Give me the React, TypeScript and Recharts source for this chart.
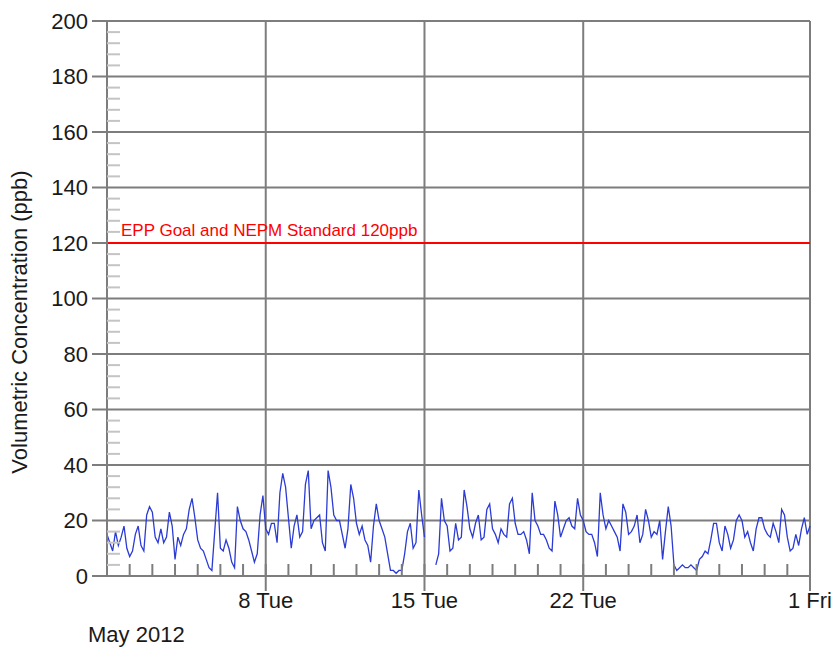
import {
  LineChart,
  Line,
  XAxis,
  YAxis,
  CartesianGrid,
  ReferenceLine,
} from "recharts";

const FONT = '"Liberation Sans", Arial, sans-serif';
const HOURS_PER_SAMPLE = 3;
const MONTH_HOURS = 744;

// ozone in ppb, one reading every 3 hours from 1 May 00:00 (null = no data)
const ozone: (number | null)[] = [
  15, 12, 9, 16, 11, 14, 18, 10, // 1
  7, 9, 15, 18, 11, 9, 22, 25, // 2
  23, 14, 12, 17, 12, 14, 23, 18, // 3
  6, 14, 11, 15, 17, 24, 28, 21, // 4
  13, 10, 9, 6, 3, 2, 16, 30, // 5
  10, 9, 13, 10, 5, 3, 25, 20, // 6
  17, 16, 13, 9, 5, 8, 22, 29, // 7
  17, 15, 19, 19, 12, 30, 37, 32, // 8
  21, 10, 18, 22, 14, 16, 33, 38, // 9
  17, 20, 21, 22, 12, 9, 38, 32, // 10
  22, 20, 20, 15, 10, 17, 33, 28, // 11
  19, 15, 18, 13, 11, 5, 18, 26, // 12
  20, 17, 14, 8, 2, 2, 1, 2, // 13
  2, 8, 16, 19, 10, 12, 31, 22, // 14
  14, null, null, null, 4, 8, 28, 20, // 15
  18, 9, 10, 19, 13, 14, 31, 25, // 16
  17, 14, 19, 22, 13, 14, 24, 26, // 17
  17, 15, 12, 17, 15, 14, 26, 28, // 18
  19, 15, 15, 16, 13, 8, 30, 20, // 19
  18, 15, 15, 13, 10, 9, 27, 22, // 20
  14, 17, 20, 21, 18, 17, 28, 22, // 21
  20, 16, 15, 15, 12, 7, 30, 22, // 22
  17, 20, 18, 16, 14, 9, 26, 23, // 23
  15, 16, 18, 22, 12, 15, 24, 20, // 24
  14, 16, 15, 20, 6, 16, 25, 18, // 25
  4, 2, 3, 4, 3, 3, 4, 3, // 26
  2, 6, 7, 9, 8, 13, 19, 19, // 27
  12, 9, 18, 15, 10, 13, 20, 22, // 28
  20, 14, 16, 12, 9, 17, 21, 21, // 29
  17, 15, 14, 19, 16, 12, 24, 22, // 30
  14, 9, 10, 15, 11, 17, 21, 15, // 31
  18,
];

const xTickHours = [168, 336, 504, 744];
const xTickLabels = ["8 Tue", "15 Tue", "22 Tue", "1 Fri"];
const dayTickHours = [
  24, 48, 72, 96, 120, 144, 168, 192, 216, 240, 264, 288, 312, 336, 360,
  384, 408, 432, 456, 480, 504, 528, 552, 576, 600, 624, 648, 672, 696, 720,
];
const yTicks = [0, 20, 40, 60, 80, 100, 120, 140, 160, 180, 200];
const yMinorTicks = [
  4, 8, 12, 16, 24, 28, 32, 36, 44, 48, 52, 56, 64, 68, 72, 76, 84, 88, 92,
  96, 104, 108, 112, 116, 124, 128, 132, 136, 144, 148, 152, 156, 164, 168,
  172, 176, 184, 188, 192, 196,
];
const standardValue = 120;
const standardLabel = "EPP Goal and NEPM Standard 120ppb";

const data = ozone.map((v, i) => ({ hour: i * HOURS_PER_SAMPLE, ozone: v }));

const GRID = "#7d7d7d";
const noLabel = () => "";

export default function App() {
  return (
    <div style={{ width: 839, height: 651, background: "#fff" }}>
      <style>{"body{margin:0}"}</style>
      <LineChart
        width={839}
        height={651}
        data={data}
        margin={{ top: 21, right: 29, bottom: 35, left: 0 }}
        style={{ fontFamily: FONT }}
      >
        <CartesianGrid stroke={GRID} strokeWidth={2} />
        <XAxis
          dataKey="hour"
          type="number"
          domain={[0, MONTH_HOURS]}
          ticks={xTickHours}
          interval={0}
          height={40}
          tickSize={15}
          tickMargin={1}
          stroke={GRID}
          strokeWidth={2}
          tick={{ fontSize: 22, fill: "#1a1a1a", fontFamily: FONT }}
          tickFormatter={(h: number) => xTickLabels[xTickHours.indexOf(h)]}
          label={{
            content: () => (
              <text x={88} y={642} fontSize={22} fill="#1a1a1a" fontFamily={FONT}>
                May 2012
              </text>
            ),
          }}
        />
        <XAxis
          xAxisId="minor"
          dataKey="hour"
          type="number"
          domain={[0, MONTH_HOURS]}
          ticks={dayTickHours}
          interval={0}
          orientation="bottom"
          mirror
          height={12}
          tickSize={12}
          tickMargin={0}
          tick={{ fontSize: 1, fill: "none" }}
          tickFormatter={noLabel}
          axisLine={false}
          tickLine={{ stroke: GRID, strokeWidth: 2 }}
        />
        <YAxis
          domain={[0, 200]}
          ticks={yTicks}
          interval={0}
          width={107}
          tickSize={15}
          tickMargin={4}
          stroke={GRID}
          strokeWidth={2}
          tick={{ fontSize: 22, fill: "#1a1a1a", fontFamily: FONT }}
          label={{
            content: () => (
              <text
                x={19}
                y={322}
                transform="rotate(-90 19 322)"
                textAnchor="middle"
                dominantBaseline="central"
                fontSize={22}
                fill="#1a1a1a"
                fontFamily={FONT}
              >
                Volumetric Concentration (ppb)
              </text>
            ),
          }}
        />
        <YAxis
          yAxisId="minor"
          dataKey="ozone"
          type="number"
          domain={[0, 200]}
          allowDataOverflow
          ticks={yMinorTicks}
          interval={0}
          orientation="left"
          mirror
          width={13}
          tickSize={13}
          tickMargin={0}
          tick={{ fontSize: 1, fill: "none" }}
          tickFormatter={noLabel}
          axisLine={false}
          tickLine={{ stroke: "#c4c4c4", strokeWidth: 2 }}
        />
        <ReferenceLine
          y={standardValue}
          stroke="#ff0000"
          strokeWidth={2}
          label={{
            content: ({ viewBox }: any) => (
              <text
                x={viewBox.x + 14}
                y={viewBox.y - 7}
                fontSize={17}
                fill="#ff0000"
                fontFamily={FONT}
              >
                {standardLabel}
              </text>
            ),
          }}
        />
        <Line
          yAxisId="minor"
          dataKey="ozone"
          stroke="none"
          dot={false}
          legendType="none"
          isAnimationActive={false}
        />
        <Line
          type="linear"
          dataKey="ozone"
          stroke="#2b3bd4"
          strokeWidth={1.3}
          dot={false}
          connectNulls={false}
          isAnimationActive={false}
        />
      </LineChart>
    </div>
  );
}
